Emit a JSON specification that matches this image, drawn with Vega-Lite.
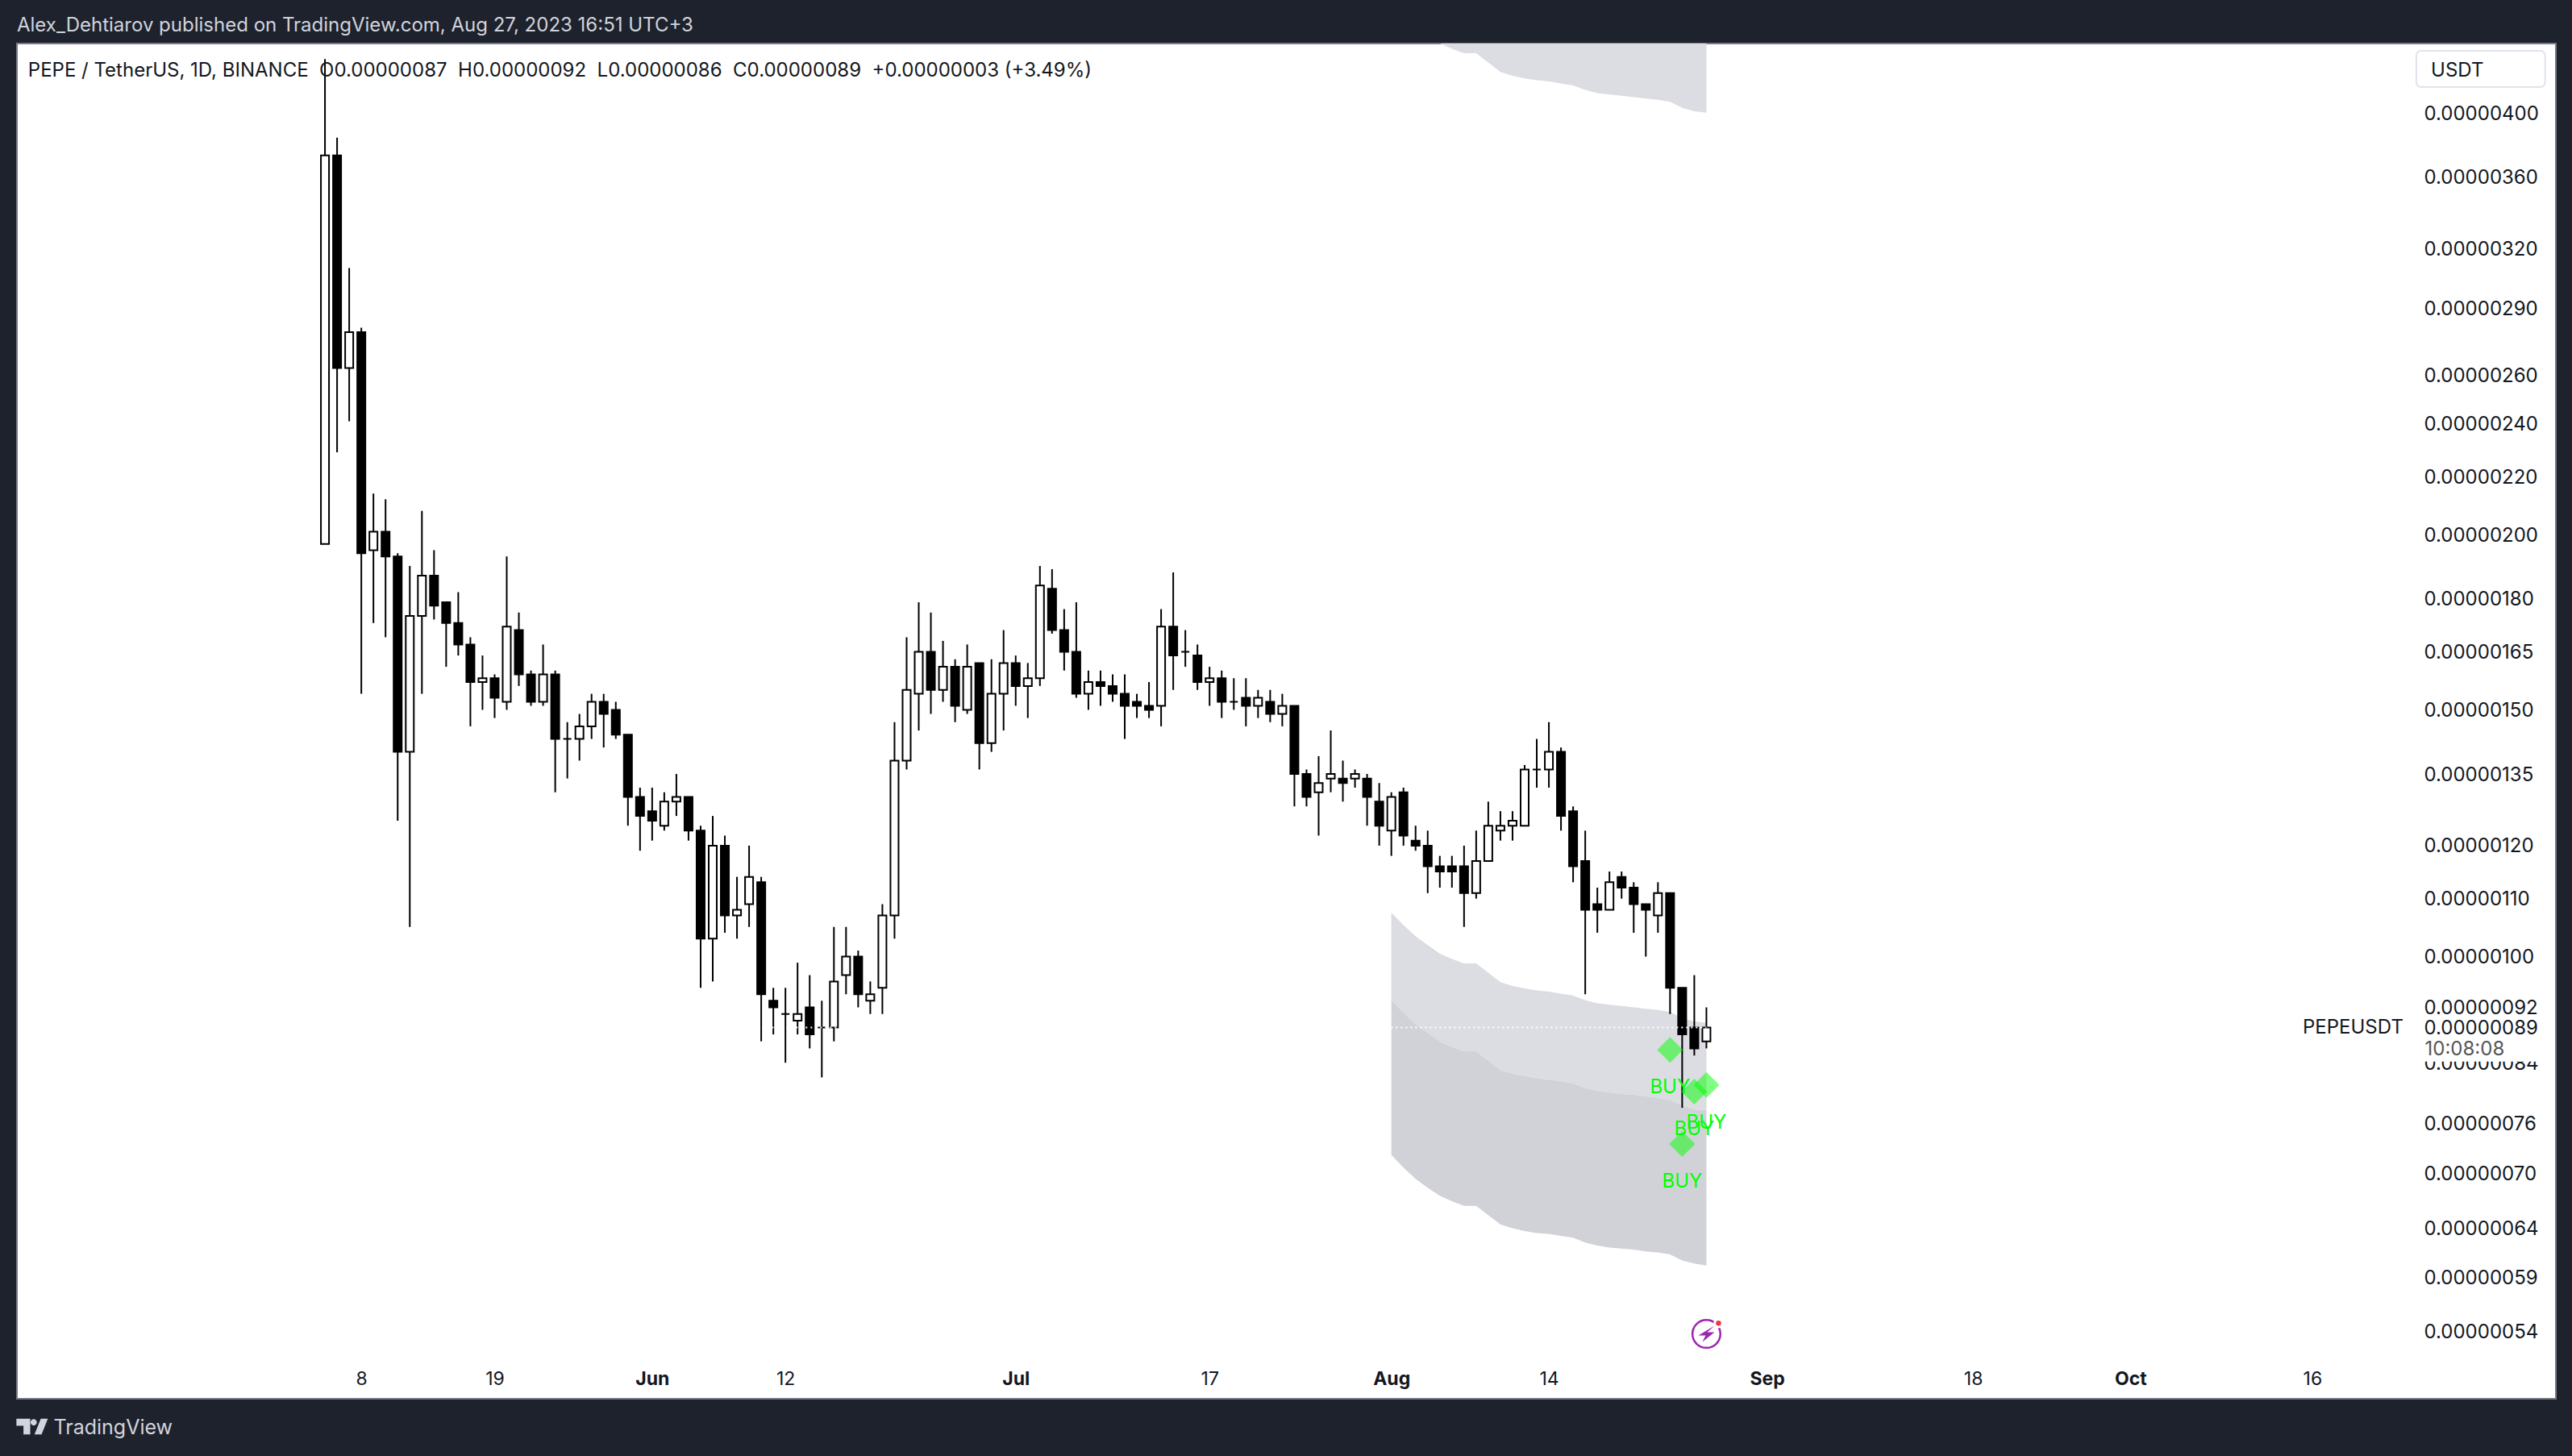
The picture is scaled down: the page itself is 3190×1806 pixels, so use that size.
{"$schema":"https://vega.github.io/schema/vega-lite/v6.json","width":3149,"height":1681,"autosize":{"type":"none"},"padding":{"left":21,"right":20,"top":54,"bottom":71},"background":"#1e222d","view":{"fill":"#ffffff","stroke":"#787b86","strokeWidth":2},"config":{"font":"Inter"},"title":{"text":"Alex_Dehtiarov published on TradingView.com, Aug 27, 2023 16:51 UTC+3","anchor":"start","frame":"group","offset":10,"color":"#d1d4dc","font":"Inter","fontSize":24,"fontWeight":"normal"},
"datasets":{
"bands":[{"date":"2023-08-01","upper":479.7e-8,"top":107.5e-8,"mid":93.1e-8,"low":72.2e-8},{"date":"2023-08-02","upper":469.9e-8,"top":105.3e-8,"mid":91.2e-8,"low":70.7e-8},{"date":"2023-08-03","upper":461.4e-8,"top":103.4e-8,"mid":89.5e-8,"low":69.4e-8},{"date":"2023-08-04","upper":454.7e-8,"top":101.9e-8,"mid":88.2e-8,"low":68.4e-8},{"date":"2023-08-05","upper":448.4e-8,"top":100.5e-8,"mid":87.0e-8,"low":67.5e-8},{"date":"2023-08-06","upper":444.4e-8,"top":99.6e-8,"mid":86.2e-8,"low":66.9e-8},{"date":"2023-08-07","upper":441.3e-8,"top":98.9e-8,"mid":85.6e-8,"low":66.4e-8},{"date":"2023-08-08","upper":441.3e-8,"top":98.9e-8,"mid":85.6e-8,"low":66.4e-8},{"date":"2023-08-09","upper":434.6e-8,"top":97.4e-8,"mid":84.3e-8,"low":65.4e-8},{"date":"2023-08-10","upper":427.9e-8,"top":95.9e-8,"mid":83.0e-8,"low":64.4e-8},{"date":"2023-08-11","upper":425.2e-8,"top":95.3e-8,"mid":82.5e-8,"low":64.0e-8},{"date":"2023-08-12","upper":423.4e-8,"top":94.9e-8,"mid":82.2e-8,"low":63.7e-8},{"date":"2023-08-13","upper":422.1e-8,"top":94.6e-8,"mid":81.9e-8,"low":63.5e-8},{"date":"2023-08-14","upper":421.2e-8,"top":94.4e-8,"mid":81.7e-8,"low":63.4e-8},{"date":"2023-08-15","upper":419.9e-8,"top":94.1e-8,"mid":81.5e-8,"low":63.2e-8},{"date":"2023-08-16","upper":418.5e-8,"top":93.8e-8,"mid":81.2e-8,"low":63.0e-8},{"date":"2023-08-17","upper":415.4e-8,"top":93.1e-8,"mid":80.6e-8,"low":62.5e-8},{"date":"2023-08-18","upper":413.2e-8,"top":92.6e-8,"mid":80.2e-8,"low":62.2e-8},{"date":"2023-08-19","upper":412.3e-8,"top":92.4e-8,"mid":80.0e-8,"low":62.0e-8},{"date":"2023-08-20","upper":411.4e-8,"top":92.2e-8,"mid":79.8e-8,"low":61.9e-8},{"date":"2023-08-21","upper":410.5e-8,"top":92.0e-8,"mid":79.7e-8,"low":61.8e-8},{"date":"2023-08-22","upper":409.6e-8,"top":91.8e-8,"mid":79.5e-8,"low":61.6e-8},{"date":"2023-08-23","upper":408.7e-8,"top":91.6e-8,"mid":79.3e-8,"low":61.5e-8},{"date":"2023-08-24","upper":407.4e-8,"top":91.3e-8,"mid":79.0e-8,"low":61.3e-8},{"date":"2023-08-25","upper":403.4e-8,"top":90.4e-8,"mid":78.3e-8,"low":60.7e-8},{"date":"2023-08-26","upper":401.1e-8,"top":89.9e-8,"mid":77.8e-8,"low":60.4e-8},{"date":"2023-08-27","upper":400.2e-8,"top":89.7e-8,"mid":77.7e-8,"low":60.2e-8}],
"candles":[
{"date":"2023-05-05","o":197e-8,"h":437e-8,"l":197e-8,"c":373e-8},{"date":"2023-05-06","o":373e-8,"h":384e-8,"l":229e-8,"c":263e-8},{"date":"2023-05-07","o":263e-8,"h":310e-8,"l":241e-8,"c":279e-8},{"date":"2023-05-08","o":279e-8,"h":281e-8,"l":154e-8,"c":194e-8},{"date":"2023-05-09","o":195e-8,"h":214e-8,"l":173e-8,"c":201e-8},{"date":"2023-05-10","o":201e-8,"h":212e-8,"l":169e-8,"c":193e-8},{"date":"2023-05-11","o":193e-8,"h":194e-8,"l":125e-8,"c":140e-8},{"date":"2023-05-12","o":140e-8,"h":190e-8,"l":105e-8,"c":175e-8},{"date":"2023-05-13","o":175e-8,"h":208e-8,"l":154e-8,"c":187e-8},{"date":"2023-05-14","o":187e-8,"h":195e-8,"l":174e-8,"c":178e-8},{"date":"2023-05-15","o":179e-8,"h":179e-8,"l":161e-8,"c":173e-8},{"date":"2023-05-16","o":173e-8,"h":182e-8,"l":164e-8,"c":167e-8},{"date":"2023-05-17","o":167e-8,"h":169e-8,"l":146e-8,"c":157e-8},{"date":"2023-05-18","o":157e-8,"h":164e-8,"l":150e-8,"c":158e-8},{"date":"2023-05-19","o":158e-8,"h":159e-8,"l":148e-8,"c":153e-8},{"date":"2023-05-20","o":152e-8,"h":193e-8,"l":150e-8,"c":172e-8},{"date":"2023-05-21","o":171e-8,"h":176e-8,"l":156e-8,"c":159e-8},{"date":"2023-05-22","o":159e-8,"h":160e-8,"l":151e-8,"c":152e-8},{"date":"2023-05-23","o":152e-8,"h":167e-8,"l":151e-8,"c":159e-8},{"date":"2023-05-24","o":159e-8,"h":160e-8,"l":131e-8,"c":143e-8},{"date":"2023-05-25","o":143e-8,"h":147e-8,"l":134e-8,"c":143e-8},{"date":"2023-05-26","o":143e-8,"h":149e-8,"l":138e-8,"c":146e-8},{"date":"2023-05-27","o":146e-8,"h":154e-8,"l":143e-8,"c":152e-8},{"date":"2023-05-28","o":152e-8,"h":154e-8,"l":141e-8,"c":149e-8},{"date":"2023-05-29","o":150e-8,"h":152e-8,"l":143e-8,"c":144e-8},{"date":"2023-05-30","o":144e-8,"h":144e-8,"l":124e-8,"c":130e-8},{"date":"2023-05-31","o":130e-8,"h":132e-8,"l":119e-8,"c":126e-8},
{"date":"2023-06-01","o":127e-8,"h":132e-8,"l":121e-8,"c":125e-8},{"date":"2023-06-02","o":124e-8,"h":131e-8,"l":123e-8,"c":129e-8},{"date":"2023-06-03","o":129e-8,"h":135e-8,"l":126e-8,"c":130e-8},{"date":"2023-06-04","o":130e-8,"h":130e-8,"l":121e-8,"c":123e-8},{"date":"2023-06-05","o":123e-8,"h":124e-8,"l":95e-8,"c":103e-8},{"date":"2023-06-06","o":103e-8,"h":126e-8,"l":96e-8,"c":120e-8},{"date":"2023-06-07","o":120e-8,"h":122e-8,"l":104e-8,"c":107e-8},{"date":"2023-06-08","o":107e-8,"h":114e-8,"l":103e-8,"c":108e-8},{"date":"2023-06-09","o":109e-8,"h":120e-8,"l":105e-8,"c":114e-8},{"date":"2023-06-10","o":113e-8,"h":114e-8,"l":87e-8,"c":94e-8},{"date":"2023-06-11","o":93e-8,"h":95e-8,"l":88e-8,"c":92e-8},{"date":"2023-06-12","o":91e-8,"h":95e-8,"l":84e-8,"c":91e-8},{"date":"2023-06-13","o":90e-8,"h":99e-8,"l":88e-8,"c":91e-8},{"date":"2023-06-14","o":92e-8,"h":97e-8,"l":86e-8,"c":88e-8},{"date":"2023-06-15","o":89e-8,"h":93e-8,"l":82e-8,"c":89e-8},{"date":"2023-06-16","o":89e-8,"h":105e-8,"l":87e-8,"c":96e-8},{"date":"2023-06-17","o":97e-8,"h":105e-8,"l":94e-8,"c":100e-8},{"date":"2023-06-18","o":100e-8,"h":101e-8,"l":92e-8,"c":94e-8},{"date":"2023-06-19","o":93e-8,"h":96e-8,"l":91e-8,"c":94e-8},{"date":"2023-06-20","o":95e-8,"h":109e-8,"l":91e-8,"c":107e-8},{"date":"2023-06-21","o":107e-8,"h":147e-8,"l":103e-8,"c":138e-8},{"date":"2023-06-22","o":138e-8,"h":169e-8,"l":136e-8,"c":155e-8},{"date":"2023-06-23","o":154e-8,"h":179e-8,"l":145e-8,"c":165e-8},{"date":"2023-06-24","o":165e-8,"h":176e-8,"l":149e-8,"c":155e-8},{"date":"2023-06-25","o":155e-8,"h":168e-8,"l":152e-8,"c":161e-8},{"date":"2023-06-26","o":161e-8,"h":163e-8,"l":147e-8,"c":151e-8},{"date":"2023-06-27","o":150e-8,"h":167e-8,"l":149e-8,"c":161e-8},{"date":"2023-06-28","o":162e-8,"h":162e-8,"l":136e-8,"c":142e-8},{"date":"2023-06-29","o":142e-8,"h":163e-8,"l":140e-8,"c":154e-8},{"date":"2023-06-30","o":154e-8,"h":171e-8,"l":145e-8,"c":162e-8},
{"date":"2023-07-01","o":162e-8,"h":164e-8,"l":151e-8,"c":156e-8},{"date":"2023-07-02","o":156e-8,"h":162e-8,"l":148e-8,"c":158e-8},{"date":"2023-07-03","o":158e-8,"h":190e-8,"l":156e-8,"c":184e-8},{"date":"2023-07-04","o":183e-8,"h":189e-8,"l":170e-8,"c":171e-8},{"date":"2023-07-05","o":171e-8,"h":177e-8,"l":160e-8,"c":165e-8},{"date":"2023-07-06","o":165e-8,"h":179e-8,"l":153e-8,"c":154e-8},{"date":"2023-07-07","o":154e-8,"h":160e-8,"l":150e-8,"c":157e-8},{"date":"2023-07-08","o":157e-8,"h":160e-8,"l":151e-8,"c":156e-8},{"date":"2023-07-09","o":156e-8,"h":159e-8,"l":152e-8,"c":154e-8},{"date":"2023-07-10","o":154e-8,"h":159e-8,"l":143e-8,"c":151e-8},{"date":"2023-07-11","o":152e-8,"h":154e-8,"l":148e-8,"c":151e-8},{"date":"2023-07-12","o":151e-8,"h":157e-8,"l":148e-8,"c":150e-8},{"date":"2023-07-13","o":151e-8,"h":177e-8,"l":146e-8,"c":172e-8},{"date":"2023-07-14","o":172e-8,"h":188e-8,"l":155e-8,"c":164e-8},{"date":"2023-07-15","o":165e-8,"h":171e-8,"l":161e-8,"c":165e-8},{"date":"2023-07-16","o":164e-8,"h":167e-8,"l":155e-8,"c":157e-8},{"date":"2023-07-17","o":157e-8,"h":161e-8,"l":151e-8,"c":158e-8},{"date":"2023-07-18","o":158e-8,"h":160e-8,"l":148e-8,"c":152e-8},{"date":"2023-07-19","o":152e-8,"h":158e-8,"l":150e-8,"c":152e-8},{"date":"2023-07-20","o":153e-8,"h":158e-8,"l":146e-8,"c":151e-8},{"date":"2023-07-21","o":151e-8,"h":155e-8,"l":148e-8,"c":153e-8},{"date":"2023-07-22","o":152e-8,"h":155e-8,"l":147e-8,"c":149e-8},{"date":"2023-07-23","o":149e-8,"h":154e-8,"l":146e-8,"c":151e-8},{"date":"2023-07-24","o":151e-8,"h":151e-8,"l":128e-8,"c":135e-8},{"date":"2023-07-25","o":135e-8,"h":136e-8,"l":128e-8,"c":130e-8},{"date":"2023-07-26","o":131e-8,"h":139e-8,"l":122e-8,"c":133e-8},{"date":"2023-07-27","o":134e-8,"h":145e-8,"l":131e-8,"c":135e-8},{"date":"2023-07-28","o":134e-8,"h":138e-8,"l":129e-8,"c":133e-8},{"date":"2023-07-29","o":134e-8,"h":136e-8,"l":132e-8,"c":135e-8},{"date":"2023-07-30","o":134e-8,"h":135e-8,"l":124e-8,"c":130e-8},{"date":"2023-07-31","o":129e-8,"h":133e-8,"l":120e-8,"c":124e-8},
{"date":"2023-08-01","o":123e-8,"h":131e-8,"l":118e-8,"c":130e-8},{"date":"2023-08-02","o":131e-8,"h":132e-8,"l":120e-8,"c":122e-8},{"date":"2023-08-03","o":121e-8,"h":124e-8,"l":119e-8,"c":120e-8},{"date":"2023-08-04","o":120e-8,"h":123e-8,"l":111e-8,"c":116e-8},{"date":"2023-08-05","o":116e-8,"h":118e-8,"l":112e-8,"c":115e-8},{"date":"2023-08-06","o":116e-8,"h":118e-8,"l":112e-8,"c":115e-8},{"date":"2023-08-07","o":116e-8,"h":120e-8,"l":105e-8,"c":111e-8},{"date":"2023-08-08","o":111e-8,"h":123e-8,"l":110e-8,"c":117e-8},{"date":"2023-08-09","o":117e-8,"h":129e-8,"l":117e-8,"c":124e-8},{"date":"2023-08-10","o":123e-8,"h":127e-8,"l":121e-8,"c":124e-8},{"date":"2023-08-11","o":124e-8,"h":127e-8,"l":121e-8,"c":125e-8},{"date":"2023-08-12","o":124e-8,"h":137e-8,"l":124e-8,"c":136e-8},{"date":"2023-08-13","o":136e-8,"h":143e-8,"l":132e-8,"c":136e-8},{"date":"2023-08-14","o":136e-8,"h":147e-8,"l":132e-8,"c":140e-8},{"date":"2023-08-15","o":140e-8,"h":141e-8,"l":123e-8,"c":126e-8},{"date":"2023-08-16","o":127e-8,"h":128e-8,"l":113e-8,"c":116e-8},{"date":"2023-08-17","o":117e-8,"h":123e-8,"l":94e-8,"c":108e-8},{"date":"2023-08-18","o":109e-8,"h":112e-8,"l":104e-8,"c":108e-8},{"date":"2023-08-19","o":108e-8,"h":115e-8,"l":108e-8,"c":113e-8},{"date":"2023-08-20","o":114e-8,"h":115e-8,"l":110e-8,"c":112e-8},{"date":"2023-08-21","o":112e-8,"h":113e-8,"l":104e-8,"c":109e-8},{"date":"2023-08-22","o":109e-8,"h":109e-8,"l":100e-8,"c":108e-8},{"date":"2023-08-23","o":107e-8,"h":113e-8,"l":104e-8,"c":111e-8},{"date":"2023-08-24","o":111e-8,"h":111e-8,"l":91e-8,"c":95e-8},{"date":"2023-08-25","o":95e-8,"h":95e-8,"l":78e-8,"c":88e-8},{"date":"2023-08-26","o":89e-8,"h":97e-8,"l":85e-8,"c":86e-8},{"date":"2023-08-27","o":87e-8,"h":92e-8,"l":86e-8,"c":89e-8}],
"signals":[{"date":"2023-08-24","p":85.8e-8,"label":"BUY"},{"date":"2023-08-25","p":73.5e-8,"label":"BUY"},{"date":"2023-08-26","p":80.1e-8,"label":"BUY"},{"date":"2023-08-27","p":81.0e-8,"label":"BUY"}],
"notes":[{"date":"2023-04-10T12:00:00Z","p":428.8e-8,"label":"PEPE / TetherUS, 1D, BINANCE\u00a0\u00a0O0.00000087\u00a0\u00a0H0.00000092\u00a0\u00a0L0.00000086\u00a0\u00a0C0.00000089\u00a0\u00a0+0.00000003 (+3.49%)","tone":"main"},{"date":"2023-10-15T05:00:00Z","p":89e-8,"label":"PEPEUSDT","tone":"main"},{"date":"2023-10-25T07:00:00Z","p":85.8e-8,"label":"10:08:08","tone":"dim"},{"date":"2023-10-25T19:00:00Z","p":428.8e-8,"label":"USDT","tone":"main"}]
},
"encoding":{"x":{"field":"date","type":"temporal","scale":{"type":"utc","padding":0,"domain":["2023-04-09T13:55:00Z","2023-11-05T02:24:00Z"]},"axis":{"values":[{"year":2023,"month":5,"date":8,"utc":true},{"year":2023,"month":5,"date":19,"utc":true},{"year":2023,"month":6,"date":1,"utc":true},{"year":2023,"month":6,"date":12,"utc":true},{"year":2023,"month":7,"date":1,"utc":true},{"year":2023,"month":7,"date":17,"utc":true},{"year":2023,"month":8,"date":1,"utc":true},{"year":2023,"month":8,"date":14,"utc":true},{"year":2023,"month":9,"date":1,"utc":true},{"year":2023,"month":9,"date":18,"utc":true},{"year":2023,"month":10,"date":1,"utc":true},{"year":2023,"month":10,"date":16,"utc":true}],"labelExpr":"utcdate(datum.value)==1 ? utcFormat(datum.value,'%b') : utcFormat(datum.value,'%-d')","labelFontWeight":{"condition":{"test":"utcdate(datum.value)==1","value":"bold"},"value":"normal"},"offset":-36,"labelPadding":0,"ticks":false,"domain":false,"grid":false,"labelFont":"Inter","labelFontSize":23,"labelColor":"#131722","labelOverlap":false,"labelFlush":false,"labelBound":false,"title":"TradingView","titleAnchor":"start","titleAlign":"left","titleBaseline":"middle","titleX":45,"titleY":71,"titleFont":"Inter","titleFontSize":25,"titleFontWeight":"normal","titleColor":"#d1d4dc"}}},
"layer":[
{"data":{"name":"bands"},"mark":{"type":"area","clip":true,"color":"#dcdde2","opacity":1},"encoding":{"y":{"field":"upper","type":"quantitative","title":null,"scale":{"type":"log","domain":[48.36e-8,448.3e-8],"nice":false,"zero":false},"axis":{"orient":"right","values":[400e-8,360e-8,320e-8,290e-8,260e-8,240e-8,220e-8,200e-8,180e-8,165e-8,150e-8,135e-8,120e-8,110e-8,100e-8,92e-8,89e-8,84e-8,76e-8,70e-8,64e-8,59e-8,54e-8],"format":".8f","offset":-164,"labelPadding":0,"labelOffset":1,"ticks":false,"domain":false,"grid":false,"labelFont":"Inter","labelFontSize":24,"labelColor":"#131722","labelOverlap":false,"labelFlush":false,"labelBound":false,"title":null}},"y2":{"datum":600e-8}}},
{"data":{"name":"bands"},"mark":{"type":"area","clip":true,"color":"#dcdde2","opacity":1},"encoding":{"y":{"field":"top","type":"quantitative","title":null},"y2":{"field":"mid"}}},
{"data":{"name":"bands"},"mark":{"type":"area","clip":true,"color":"#d1d2d7","opacity":1},"encoding":{"y":{"field":"mid","type":"quantitative","title":null},"y2":{"field":"low"}}},
{"data":{"name":"candles"},"mark":{"type":"rule","color":"#000000","strokeWidth":2,"clip":true},"encoding":{"y":{"field":"h","type":"quantitative","title":null},"y2":{"field":"l"}}},
{"data":{"name":"candles"},"mark":{"type":"bar","size":10,"orient":"vertical","stroke":"#000000","strokeWidth":2},"encoding":{"y":{"field":"o","type":"quantitative","title":null},"y2":{"field":"c"},"fill":{"condition":{"test":"datum.c>datum.o","value":"#ffffff"},"value":"#000000"}}},
{"data":{"values":[{"date":"2023-04-10","end":"2023-08-27","p":89e-8}]},"mark":{"type":"rule","color":"#ffffff","strokeWidth":2,"strokeDash":[2,4]},"encoding":{"x2":{"field":"end"},"y":{"field":"p","type":"quantitative","title":null}}},
{"data":{"name":"signals"},"mark":{"type":"point","shape":"diamond","filled":true,"size":1024,"color":"#00ff00","fillOpacity":0.5,"strokeOpacity":0.2,"strokeWidth":2},"encoding":{"y":{"field":"p","type":"quantitative","title":null}}},
{"data":{"name":"signals"},"mark":{"type":"text","dy":47,"color":"#00ff00","font":"Inter","fontSize":24},"encoding":{"y":{"field":"p","type":"quantitative","title":null},"text":{"field":"label"}}},
{"data":{"values":[{"date":"2023-08-27","p":53.8e-8}]},"mark":{"type":"point","shape":"circle","size":1200,"filled":false,"stroke":"#9c27b0","strokeWidth":2.5,"opacity":1},"encoding":{"y":{"field":"p","type":"quantitative","title":null}}},
{"data":{"values":[{"date":"2023-08-27","p":53.8e-8}]},"mark":{"type":"point","shape":"M1,-1 L-1,0.2 L-0.1,0.2 L-0.5,1 L1,-0.2 L0.1,-0.2 Z","size":400,"filled":true,"color":"#9c27b0","opacity":1},"encoding":{"y":{"field":"p","type":"quantitative","title":null}}},
{"data":{"values":[{"date":"2023-08-28","p":54.76e-8}]},"mark":{"type":"point","shape":"circle","size":90,"filled":true,"fill":"#f23645","stroke":"#ffffff","strokeWidth":3,"opacity":1},"encoding":{"y":{"field":"p","type":"quantitative","title":null}}},
{"data":{"values":[{"date":"2023-04-10T20:00:00Z","p":46.2e-8}]},"mark":{"type":"point","shape":"M-1,-0.5 H-0.12 V0.5 H-0.55 V-0.05 H-1 Z M0.3,-0.27 A0.2,0.2 0 1 1 -0.1,-0.27 A0.2,0.2 0 1 1 0.3,-0.27 Z M0.55,-0.5 H1 L0.6,0.5 H0.15 Z","size":1521,"filled":true,"color":"#d1d4dc","opacity":1},"encoding":{"y":{"field":"p","type":"quantitative","title":null}}},
{"data":{"values":[{"date":"2023-10-24T14:00:00Z","end":"2023-11-04T05:00:00Z","p":443e-8,"p2":417.3e-8}]},"mark":{"type":"rect","fill":"#ffffff","stroke":"#e0e3eb","strokeWidth":2,"cornerRadius":6},"encoding":{"x2":{"field":"end"},"y":{"field":"p","type":"quantitative","title":null},"y2":{"field":"p2"}}},
{"data":{"values":[{"date":"2023-10-24T20:00:00Z","end":"2023-11-04T12:00:00Z","p":87.6e-8,"p2":84.15e-8}]},"mark":{"type":"rect","fill":"#ffffff"},"encoding":{"x2":{"field":"end"},"y":{"field":"p","type":"quantitative","title":null},"y2":{"field":"p2"}}},
{"data":{"name":"notes"},"mark":{"type":"text","align":"left","baseline":"middle","font":"Inter","fontSize":24},"encoding":{"y":{"field":"p","type":"quantitative","title":null},"text":{"field":"label"},"color":{"condition":{"test":"datum.tone==='dim'","value":"#555555"},"value":"#131722"}}}
]}
